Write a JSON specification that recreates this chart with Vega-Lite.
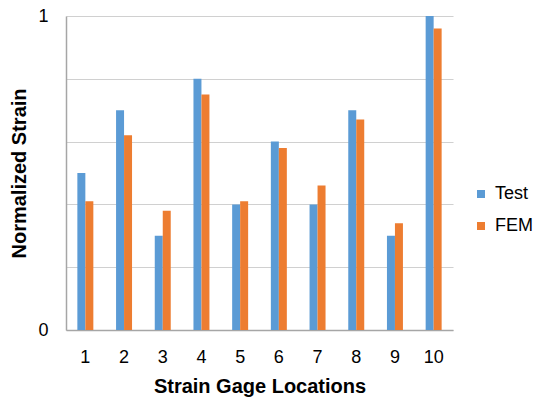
{
  "$schema": "https://vega.github.io/schema/vega-lite/v6.json",
  "width": 387,
  "height": 314,
  "autosize": {"type": "none"},
  "padding": {"left": 66, "top": 16, "right": 84, "bottom": 71},
  "background": "white",
  "config": {
    "view": {"stroke": null},
    "font": "Liberation Sans"
  },
  "data": {
    "values": [
      {"loc": "1", "series": "Test", "value": 0.50},
      {"loc": "1", "series": "FEM", "value": 0.41},
      {"loc": "2", "series": "Test", "value": 0.70},
      {"loc": "2", "series": "FEM", "value": 0.62},
      {"loc": "3", "series": "Test", "value": 0.30},
      {"loc": "3", "series": "FEM", "value": 0.38},
      {"loc": "4", "series": "Test", "value": 0.80},
      {"loc": "4", "series": "FEM", "value": 0.75},
      {"loc": "5", "series": "Test", "value": 0.40},
      {"loc": "5", "series": "FEM", "value": 0.41},
      {"loc": "6", "series": "Test", "value": 0.60},
      {"loc": "6", "series": "FEM", "value": 0.58},
      {"loc": "7", "series": "Test", "value": 0.40},
      {"loc": "7", "series": "FEM", "value": 0.46},
      {"loc": "8", "series": "Test", "value": 0.70},
      {"loc": "8", "series": "FEM", "value": 0.67},
      {"loc": "9", "series": "Test", "value": 0.30},
      {"loc": "9", "series": "FEM", "value": 0.34},
      {"loc": "10", "series": "Test", "value": 1.00},
      {"loc": "10", "series": "FEM", "value": 0.96}
    ]
  },
  "mark": {"type": "bar"},
  "encoding": {
    "x": {
      "field": "loc",
      "type": "nominal",
      "sort": null,
      "scale": {"paddingInner": 0.587, "paddingOuter": 0.2935},
      "axis": {
        "title": "Strain Gage Locations",
        "titleFontSize": 20,
        "titleFontWeight": "bold",
        "titleColor": "black",
        "titlePadding": 10,
        "labelAngle": 0,
        "labelFontSize": 18,
        "labelColor": "black",
        "labelPadding": 18,
        "ticks": false,
        "domainColor": "#a6a6a6",
        "domainWidth": 1.5,
        "grid": false
      }
    },
    "xOffset": {"field": "series", "type": "nominal", "sort": ["Test", "FEM"]},
    "y": {
      "field": "value",
      "type": "quantitative",
      "scale": {"domain": [0, 1], "nice": false},
      "axis": {
        "title": "Normalized Strain",
        "titleFontSize": 20,
        "titleFontWeight": "bold",
        "titleColor": "black",
        "titlePadding": 8,
        "values": [0, 0.2, 0.4, 0.6, 0.8, 1],
        "labelExpr": "datum.value == 0 ? '0' : (datum.value == 1 ? '1' : '')",
        "labelFontSize": 18,
        "labelColor": "black",
        "labelPadding": 18,
        "ticks": false,
        "domainColor": "#a6a6a6",
        "domainWidth": 1.5,
        "gridColor": "#d0d0d0",
        "gridWidth": 1.2
      }
    },
    "color": {
      "field": "series",
      "type": "nominal",
      "sort": ["Test", "FEM"],
      "scale": {"domain": ["Test", "FEM"], "range": ["#5B9BD5", "#ED7D31"]},
      "legend": {
        "title": null,
        "orient": "none",
        "legendX": 406,
        "legendY": 169,
        "padding": 0,
        "symbolType": "square",
        "symbolSize": 64,
        "symbolStrokeWidth": 0,
        "labelFontSize": 18,
        "labelColor": "black",
        "labelOffset": 5,
        "rowPadding": 14
      }
    }
  }
}
